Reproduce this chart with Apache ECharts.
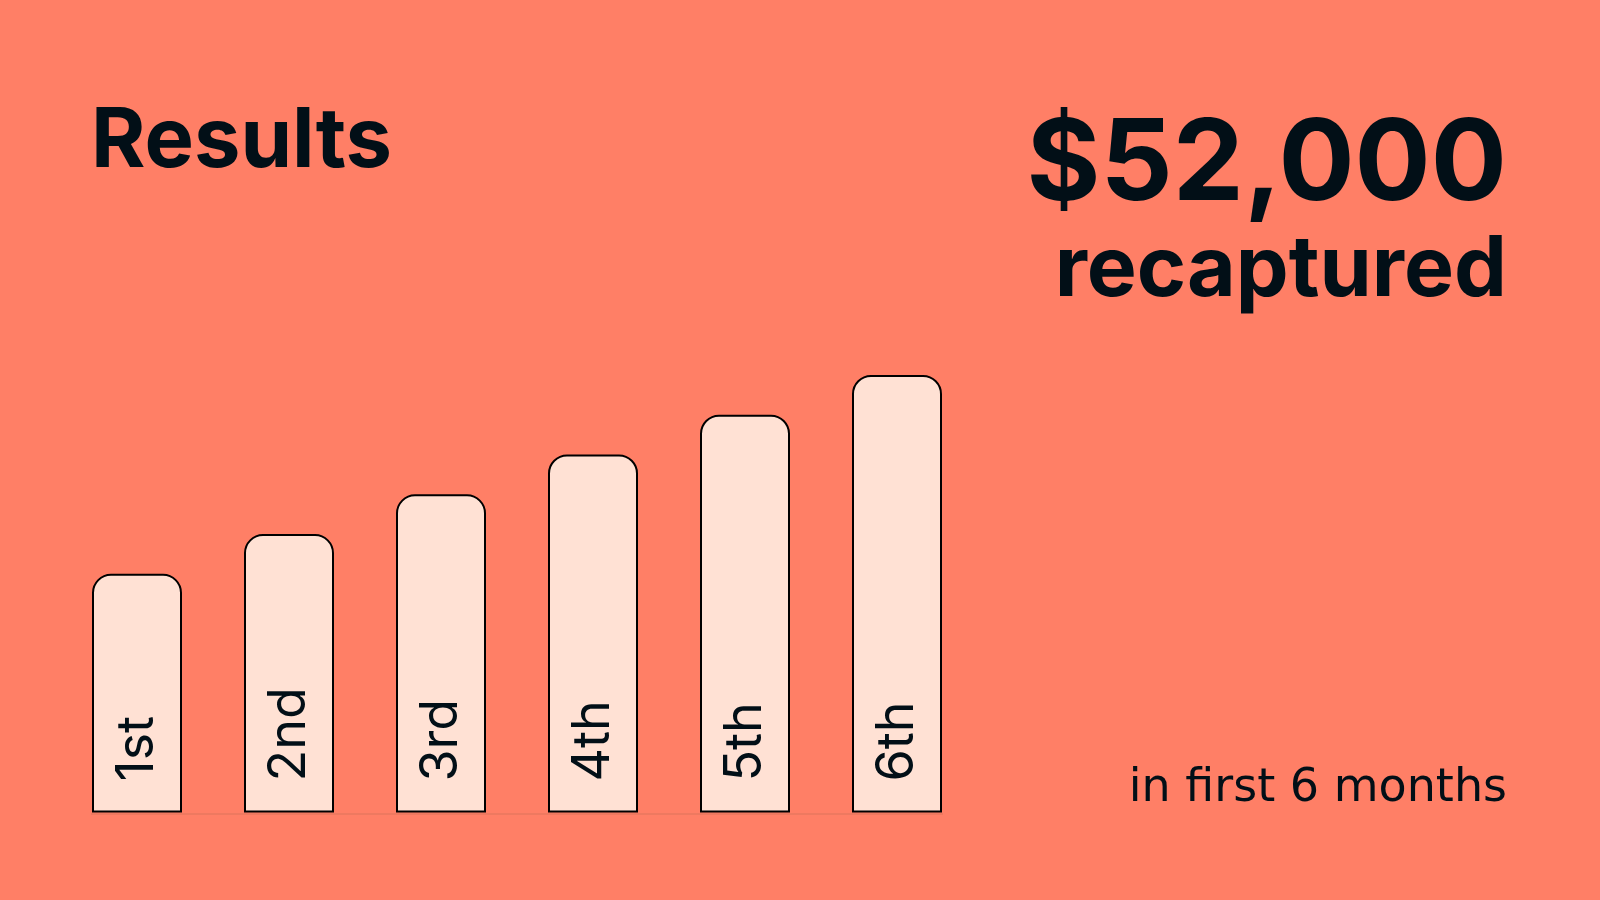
<!DOCTYPE html>
<html>
<head>
<meta charset="utf-8">
<script src="https://cdn.jsdelivr.net/npm/echarts@6/dist/echarts.min.js"></script>
<style>
html,body{margin:0;padding:0;background:#FF7F66;}
#chart{width:1600px;height:900px;}
</style>
</head>
<body>
<div id="chart"></div>
<script>
const categories = ['1st', '2nd', '3rd', '4th', '5th', '6th'];
const values = [6, 7, 8, 9, 10, 11];
const titleText = 'Results';
const bigNumber = '$52,000';
const bigNumberCaption = 'recaptured';
const footnote = 'in first 6 months';

const BG = '#FF7F66';
const BAR = '#FFE1D4';
const INK = '#020F17';
const FONT = 'Inter';
const BAR_W = 90;

const chart = echarts.init(document.getElementById('chart'), null, {renderer: 'canvas'});

const option = {
  backgroundColor: BG,
  animation: false,
  grid: {left: 61, right: 627, top: 375, bottom: 87.5},
  xAxis: {
    type: 'category',
    data: categories,
    axisLine: {show: false},
    axisTick: {show: false},
    axisLabel: {show: false},
    splitLine: {show: false}
  },
  yAxis: {
    type: 'value',
    min: 0,
    max: 11,
    show: false,
    splitLine: {show: false}
  },
  series: [{
    type: 'bar',
    data: values,
    barWidth: BAR_W,
    itemStyle: {
      color: BAR,
      borderColor: '#000000',
      borderWidth: 2,
      borderRadius: [18, 18, 0, 0]
    },
    label: {
      show: true,
      formatter: p => p.name,
      position: 'insideBottom',
      distance: 31,
      rotate: 90,
      align: 'left',
      verticalAlign: 'middle',
      fontFamily: FONT,
      fontSize: 52,
      fontWeight: 400,
      color: INK
    }
  }],
  graphic: [
    {type: 'text', x: 91, y: 142, style: {text: titleText, font: '700 83px Inter', fill: INK, align: 'left', verticalAlign: 'middle'}},
    {type: 'text', x: 1507, y: 166, style: {text: bigNumber, font: '700 113px Inter', fill: INK, align: 'right', verticalAlign: 'middle'}},
    {type: 'text', x: 1507, y: 271, style: {text: bigNumberCaption, font: '700 84px Inter', fill: INK, align: 'right', verticalAlign: 'middle'}},
    {type: 'text', x: 1507, y: 789, style: {text: footnote, font: '400 46px "DejaVu Sans"', fill: INK, align: 'right', verticalAlign: 'middle'}}
  ]
};
chart.setOption(option);

// faint baseline spanning from first bar's left edge to last bar's right edge
const p0 = chart.convertToPixel({seriesIndex: 0}, [categories[0], 0]);
const p1 = chart.convertToPixel({seriesIndex: 0}, [categories[categories.length - 1], 0]);
chart.setOption({
  graphic: option.graphic.concat([{
    type: 'line',
    z: -1,
    shape: {x1: p0[0] - BAR_W / 2 - 1, y1: p0[1] + 1.5, x2: p1[0] + BAR_W / 2 + 1, y2: p1[1] + 1.5},
    style: {stroke: '#E8775F', lineWidth: 1.5}
  }])
});
</script>
</body>
</html>
